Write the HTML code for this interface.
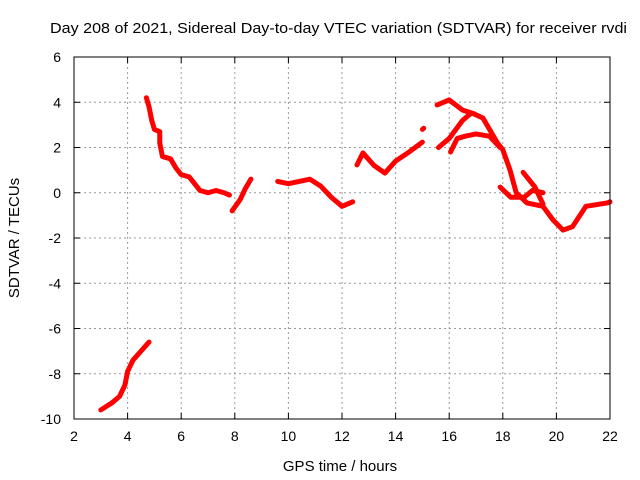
<!DOCTYPE html>
<html><head><meta charset="utf-8"><style>
body{margin:0;background:#fff}
svg{display:block;font-family:"Liberation Sans",sans-serif}
</style></head><body>
<svg id="chart" width="640" height="480">
<text x="50" y="33" font-size="15" textLength="577" lengthAdjust="spacingAndGlyphs">Day 208 of 2021, Sidereal Day-to-day VTEC variation (SDTVAR) for receiver rvdi</text>
<text x="340" y="471" font-size="15" text-anchor="middle">GPS time / hours</text>
<text transform="translate(19,238) rotate(-90)" font-size="15" text-anchor="middle">SDTVAR / TECUs</text>
<g id="grid"></g><g id="series"></g>
<rect x="74" y="57" width="536" height="362" fill="none" stroke="#000" stroke-width="1"/>
</svg>
<script>
const xTicks=[2,4,6,8,10,12,14,16,18,20,22];
const yTicks=[6,4,2,0,-2,-4,-6,-8,-10];
const seg1=[[3.0,-9.6],[3.4,-9.3],[3.7,-9.0],[3.9,-8.5],[4.0,-7.9],[4.2,-7.4],[4.5,-7.0],[4.8,-6.6]];
const seg2=[[4.7,4.2],[4.8,3.8],[4.9,3.2],[5.0,2.8],[5.2,2.7],[5.2,2.2],[5.3,1.6],[5.6,1.5],[5.8,1.1],[6.0,0.8],[6.3,0.7],[6.5,0.4],[6.7,0.1],[7.0,0.0],[7.3,0.1],[7.6,0.0],[7.8,-0.1]];
const seg3=[[7.9,-0.8],[8.2,-0.3],[8.4,0.2],[8.6,0.6]];
const seg4=[[9.6,0.5],[10.0,0.4],[10.4,0.5],[10.8,0.6],[11.2,0.3],[11.6,-0.2],[12.0,-0.6],[12.2,-0.5],[12.4,-0.4]];
const seg5=[[12.56,1.23],[12.78,1.76],[13.2,1.2],[13.6,0.87],[14.0,1.4],[14.5,1.8],[15.0,2.24]];
const seg6=[[15.0,2.8],[15.05,2.85]];
const seg7=[[15.55,3.88],[16.0,4.1],[16.5,3.65],[16.9,3.5],[17.26,3.3],[17.8,2.2],[18.0,1.9],[18.27,1.0],[18.5,0.0],[18.9,-0.45],[19.5,-0.6],[19.87,-1.2],[20.25,-1.65],[20.6,-1.5],[21.1,-0.6],[21.9,-0.45],[22.0,-0.4]];
const seg8=[[15.6,2.0],[16.0,2.4],[16.5,3.2],[16.8,3.5]];
const seg9=[[16.05,1.8],[16.3,2.4],[16.6,2.5],[17.0,2.6],[17.5,2.5],[17.9,2.0]];
const seg10=[[17.9,0.25],[18.3,-0.2],[18.8,-0.2],[19.1,0.1],[19.5,0.0]];
const seg11=[[18.76,0.9],[19.2,0.25],[19.5,-0.5]];
const segments=[seg1,seg2,seg3,seg4,seg5,seg6,seg7,seg8,seg9,seg10,seg11];
const X0=74,X1=610,Y0=419,Y1=57;
const xs=v=>X0+(v-2)/20*(X1-X0);
const ys=v=>Y0-(v+10)/16*(Y0-Y1);
const NS="http://www.w3.org/2000/svg";
const grid=document.getElementById('grid'),ser=document.getElementById('series');
function mk(t,a,p){const e=document.createElementNS(NS,t);for(const k in a)e.setAttribute(k,a[k]);p.appendChild(e);return e;}
xTicks.forEach(t=>{const x=xs(t);
 if(t>2&&t<22){const l=mk('line',{x1:x,x2:x,y1:Y1,y2:Y0,stroke:'#999','stroke-dasharray':'2,3'},grid);
 
 }
 mk('line',{x1:x,x2:x,y1:Y0,y2:Y0-6,stroke:'#000'},grid);
 mk('line',{x1:x,x2:x,y1:Y1,y2:Y1+6,stroke:'#000'},grid);
 const tx=mk('text',{x:x,y:441,'font-size':14,'text-anchor':'middle'},grid);tx.textContent=t;
 
 });
yTicks.forEach(t=>{const y=ys(t);
 if(t>-10&&t<6){const l=mk('line',{x1:X0,x2:X1,y1:y,y2:y,stroke:'#999','stroke-dasharray':'2,3'},grid);
 
 }
 mk('line',{x1:X0,x2:X0+6,y1:y,y2:y,stroke:'#000'},grid);
 mk('line',{x1:X1,x2:X1-6,y1:y,y2:y,stroke:'#000'},grid);
 const tx=mk('text',{x:61,y:y+5,'font-size':14,'text-anchor':'end'},grid);tx.textContent=t;
 
 });
segments.forEach((s,i)=>{
 const p=mk('polyline',{points:s.map(d=>xs(d[0])+','+ys(d[1])).join(' '),fill:'none',stroke:'#f00','stroke-width':5,'stroke-linejoin':'round','stroke-linecap':'round'},ser);
 
 
});
</script>
</body></html>
